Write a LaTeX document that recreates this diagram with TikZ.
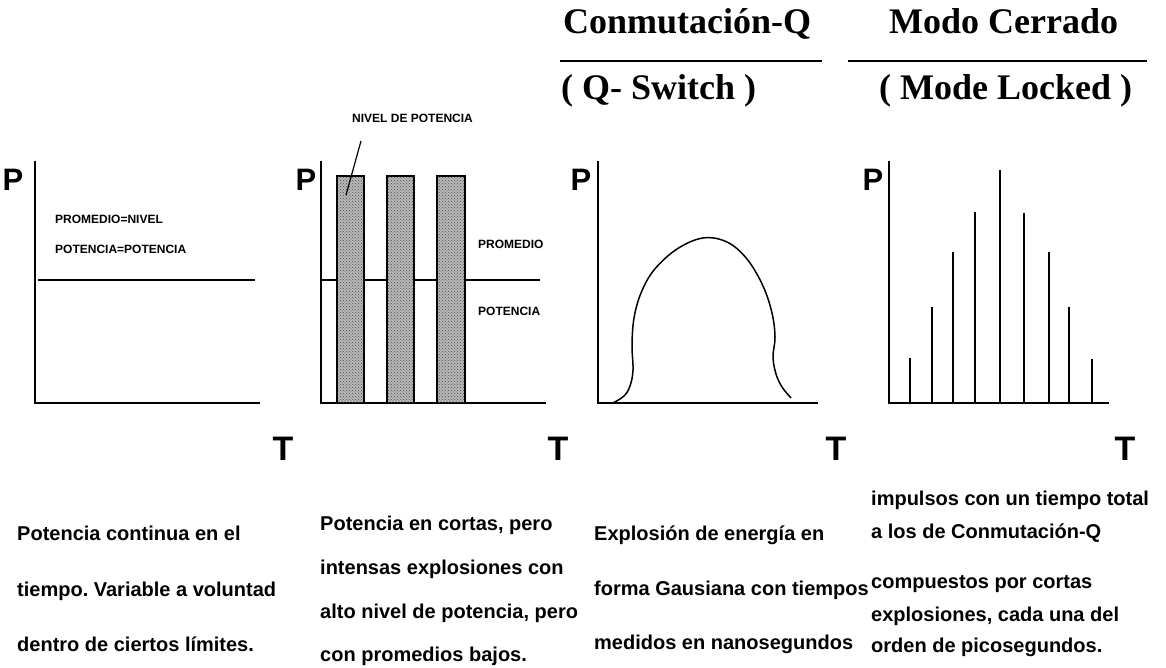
\documentclass[tikz,border=0pt]{standalone}
\usepackage{fontspec}
\setmainfont{Liberation Sans}
\newfontfamily\hdfont{Liberation Serif}
\usetikzlibrary{patterns}
\frenchspacing
\begin{document}
\begin{tikzpicture}[x=1pt,y=-1pt,
  hdtext/.style={inner sep=0pt,anchor=base west,font=\hdfont\bfseries\fontsize{36}{40}\selectfont},
  axlabel/.style={inner sep=0pt,font=\bfseries\fontsize{31}{34}\selectfont},
  tlabel/.style={inner sep=0pt,font=\bfseries\fontsize{34}{36}\selectfont},
  small/.style={inner sep=0pt,anchor=west,font=\bfseries\fontsize{12}{13}\selectfont},
  desc/.style={inner sep=0pt,anchor=base west,font=\bfseries\fontsize{20}{22}\selectfont},
  axis/.style={line width=2pt},
  rule/.style={line width=1.4pt},
  pulse/.style={line width=1.8pt},
  bar/.style={line width=1.8pt,draw=black,fill=black!28},
  dots/.style={pattern=crosshatch dots,pattern color=black!70}]
\useasboundingbox (0,0) rectangle (1166,668);
% headers
\node[hdtext] (h1) at (563,34) {Conmutación-Q};
\node[hdtext] (h2) at (561,100) {( Q- Switch )};
\node[hdtext] (h3) at (889,34) {Modo Cerrado};
\node[hdtext] (h4) at (879,100) {( Mode Locked )};
\draw[rule] (560,61) -- (822,61);
\draw[rule] (848,61) -- (1147,61);
% panel 1
\node[axlabel] (p1) at (13,180) {P};
\draw[axis] (35,161) -- (35,403) -- (260,403);
\draw[axis] (38,280) -- (255,280);
\node[small] (t1a) at (55,219) {PROMEDIO=NIVEL};
\node[small] (t1b) at (55,249) {POTENCIA=POTENCIA};
\node[tlabel] (T1) at (283,449) {T};
% panel 2
\node[axlabel] (p2) at (306,180) {P};
\draw[axis] (321,161) -- (321,403) -- (546,403);
\draw[axis] (321,280) -- (540,280);
\foreach \a/\b in {337/364,387/414,437/465}{
  \draw[bar] (\a,176) rectangle (\b,403);
  \fill[dots] (\a+1,177) rectangle (\b-1,402);
}
\node[small,anchor=south west] (niv) at (352,123) {NIVEL DE POTENCIA};
\coordinate (lt) at (361,141);
\coordinate (lb) at (346,195);
\draw[line width=1.2pt] (lt) -- (lb);
\node[small] (t2a) at (478,244) {PROMEDIO};
\node[small] (t2b) at (478,311) {POTENCIA};
\node[tlabel] (T2) at (558,449) {T};
% panel 3
\node[axlabel] (p3) at (581,180) {P};
\draw[axis] (598,161) -- (598,403) -- (818,403);
\draw[line width=1.5pt] plot[smooth,tension=0.6] coordinates {(613,403) (624,396) (630,386) (633,370) (632,345) (634,318) (641,293) (654,270) (677,249) (703,238) (727,242) (747,259) (763,286) (772,313) (775,337) (773,357) (776,374) (782,387) (791,398)};
\node[tlabel] (T3) at (836,449) {T};
% panel 4
\node[axlabel] (p4) at (873,180) {P};
\draw[axis] (889,161) -- (889,403) -- (1109,403);
\foreach \x/\y in {910/358,932/307,953/252,975/212,1000/170,1024/213,1049/252,1069/307,1092/359}
  \draw[pulse] (\x,403) -- (\x,\y);
\node[tlabel] (T4) at (1125,449) {T};
% descriptions
\node[desc] (d11) at (17,540) {Potencia continua en el};
\node[desc] (d12) at (17,596) {tiempo. Variable a voluntad};
\node[desc] (d13) at (17,651) {dentro de ciertos límites.};
\node[desc] (d21) at (320,530) {Potencia en cortas, pero};
\node[desc] (d22) at (320,574) {intensas explosiones con};
\node[desc] (d23) at (320,618) {alto nivel de potencia, pero};
\node[desc] (d24) at (320,661) {con promedios bajos.};
\node[desc] (d31) at (594,540) {Explosión de energía en};
\node[desc] (d32) at (594,595) {forma Gausiana con tiempos};
\node[desc] (d33) at (594,649) {medidos en nanosegundos};
\node[desc] (d41) at (871,505) {impulsos con un tiempo total};
\node[desc] (d42) at (871,538) {a los de Conmutación-Q};
\node[desc] (d43) at (871,588) {compuestos por cortas};
\node[desc] (d44) at (871,621) {explosiones, cada una del};
\node[desc] (d45) at (871,652) {orden de picosegundos.};
\end{tikzpicture}
\end{document}
